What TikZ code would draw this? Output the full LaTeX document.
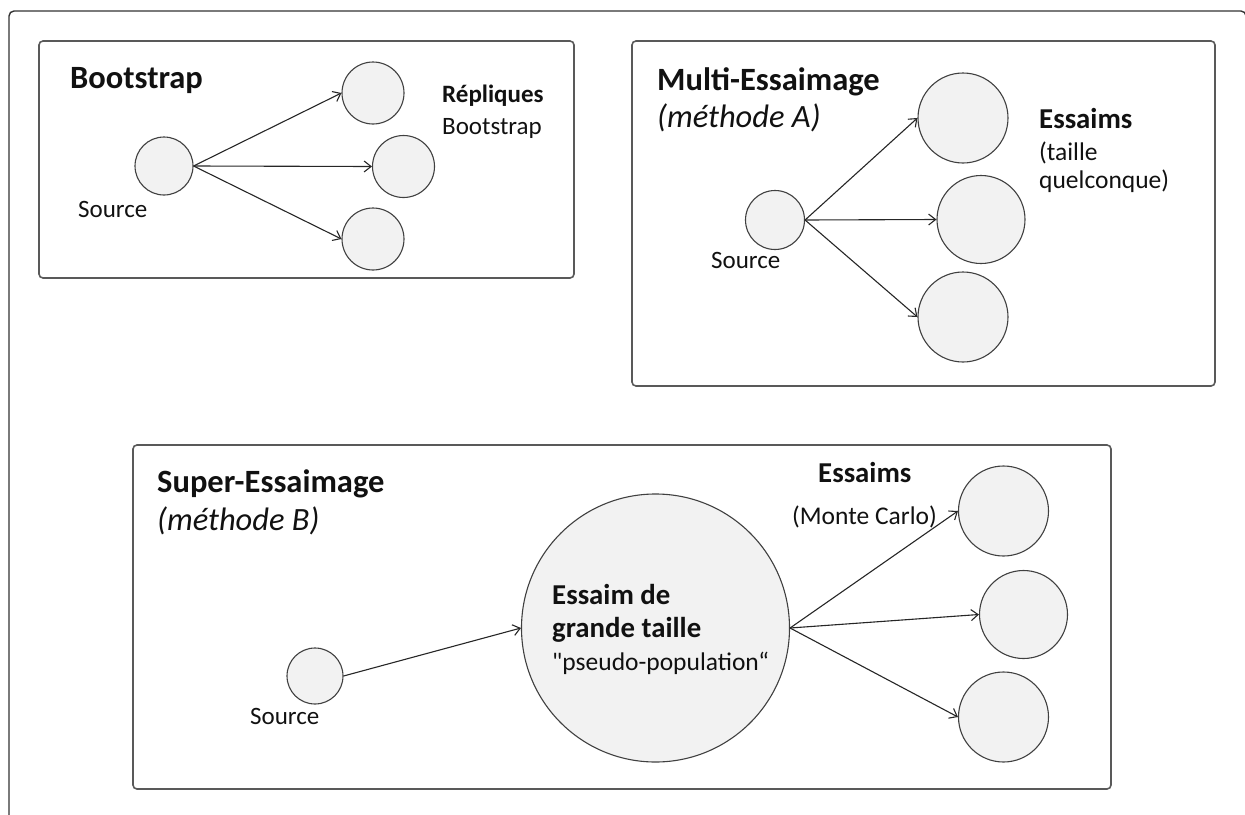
\documentclass[tikz,border=0pt]{standalone}
\usepackage{fontspec}
\setmainfont{Carlito}
\newfontfamily\qfont{Carlito}
\usetikzlibrary{arrows.meta}
\definecolor{circfill}{HTML}{F2F2F2}
\definecolor{circline}{HTML}{404040}
\definecolor{boxline}{HTML}{595959}
\definecolor{txt}{HTML}{111111}
\tikzset{
 frame/.style={draw=boxline, line width=1.6pt, rounded corners=4pt},
 outer/.style={draw=black!80, line width=1.4pt, rounded corners=5pt},
 circ/.style={circle, draw=circline, fill=circfill, line width=1.1pt, inner sep=0pt},
 arr/.style={draw=black!85, line width=1.1pt, -{Straight Barb[length=7pt,width=11pt]}},
 lbl/.style={anchor=base west, inner sep=0pt, text=txt},
 title/.style={lbl, font=\fontsize{32.5}{39}\selectfont\bfseries},
 subt/.style={lbl, font=\fontsize{32.5}{39}\selectfont\itshape},
 reg/.style={lbl, font=\fontsize{25}{30}\selectfont},
 regL/.style={lbl, font=\fontsize{25.5}{30}\selectfont},
 bld/.style={lbl, font=\fontsize{25}{30}\selectfont\bfseries},
 bldL/.style={lbl, font=\fontsize{28.8}{34}\selectfont\bfseries},
}
\begin{document}
\begin{tikzpicture}[x=1pt,y=-1pt]
\useasboundingbox (0,0) rectangle (1245,814);
\begin{scope}
\clip (0,0) rectangle (1245,814);
\draw[outer] (9,11) rectangle (1246,840);
\end{scope}

% Bootstrap
\draw[frame] (39,41) rectangle (574,278);
\node[title] (tb) at (70,88) {Bootstrap};
\node[circ, minimum size=58pt] (bs) at (164,166) {};
\node[reg] (bsl) at (78,217) {Source};
\node[circ, minimum size=62pt] (b1) at (373,93) {};
\node[circ, minimum size=62pt] (b2) at (403.5,166.5) {};
\node[circ, minimum size=62pt] (b3) at (373,239) {};
\node[bld] (brep) at (442,102) {Répliques};
\node[reg] (bboot) at (442,134) {Bootstrap};
\draw[arr] (bs.east) -- (b1.west);
\draw[arr] (bs.east) -- (b2.west);
\draw[arr] (bs.east) -- (b3.west);

% Multi-Essaimage
\draw[frame] (632,41) rectangle (1215,386);
\node[title] (tm) at (657,90) {Multi-Essaimage};
\node[subt] (tma) at (657,127) {(méthode A)};
\node[circ, minimum size=59pt] (ms) at (775,220) {};
\node[reg] (msl) at (711,268) {Source};
\node[circ, minimum size=90pt] (m1) at (963,118) {};
\node[circ, minimum size=88pt] (m2) at (981,219.5) {};
\node[circ, minimum size=90pt] (m3) at (963,317) {};
\node[bldL] (mess) at (1039,128) {Essaims};
\node[regL] (mt1) at (1039,160) {(taille};
\node[regL] (mt2) at (1039,188) {quelconque)};
\draw[arr] (ms.east) -- (m1.west);
\draw[arr] (ms.east) -- (m2.west);
\draw[arr] (ms.east) -- (m3.west);

% Super-Essaimage
\draw[frame] (133,445) rectangle (1111,789);
\node[title] (ts) at (157,492) {Super-Essaimage};
\node[subt] (tsb) at (157,530) {(méthode B)};
\node[circ, minimum size=56pt] (ss) at (315,676) {};
\node[reg] (ssl) at (250,724) {Source};
\node[circ, minimum size=268pt] (big) at (655.5,628) {};
\node[bldL] (bt1) at (552,604) {Essaim de};
\node[bldL] (bt2) at (552,637) {grande taille};
\node[regL] (bt3) at (552,670) {{\qfont"}pseudo-population“};
\node[circ, minimum size=90pt] (s1) at (1003.5,511) {};
\node[circ, minimum size=88pt] (s2) at (1023.5,614.5) {};
\node[circ, minimum size=90pt] (s3) at (1003.5,717) {};
\node[bldL] (sess) at (818,482) {Essaims};
\node[regL] (smc) at (792,524) {(Monte Carlo)};
\draw[arr] (ss.east) -- (big.west);
\draw[arr] (big.east) -- (s1.west);
\draw[arr] (big.east) -- (s2.west);
\draw[arr] (big.east) -- (s3.west);
\end{tikzpicture}
\end{document}
